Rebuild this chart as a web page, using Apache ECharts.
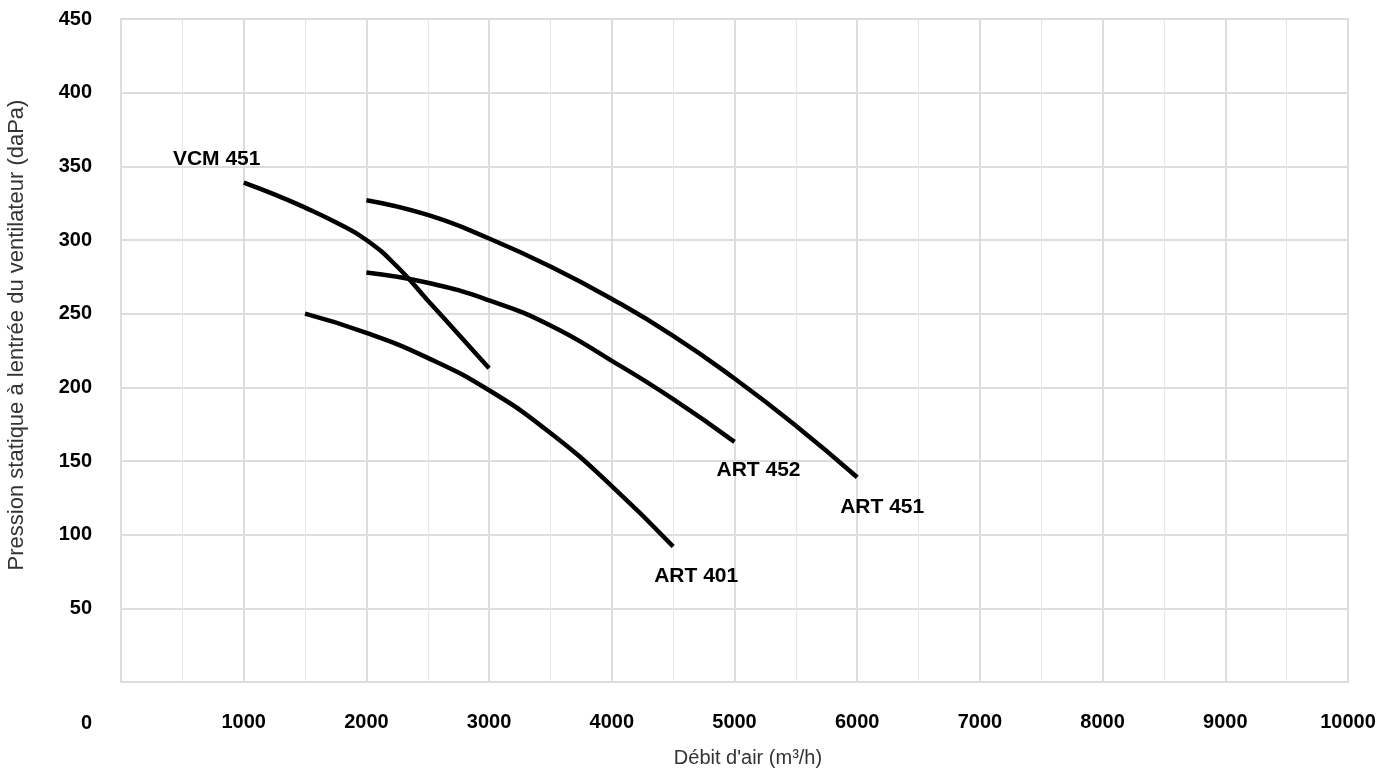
<!DOCTYPE html>
<html>
<head>
<meta charset="utf-8">
<script src="https://cdn.jsdelivr.net/npm/echarts@6/dist/echarts.min.js"></script>
<style>
html,body{margin:0;padding:0;background:#fff;}
#chart{width:1394px;height:769px;}
</style>
</head>
<body>
<div id="chart"></div>
<script>
// Data
var xTicks = [0, 1000, 2000, 3000, 4000, 5000, 6000, 7000, 8000, 9000, 10000];
var yTicks = [0, 50, 100, 150, 200, 250, 300, 350, 400, 450];

var vcm451Flow = [1000, 1250, 1500, 1750, 2000, 2250, 2500, 2750, 3000];
var vcm451Pres = [339, 331, 322, 312, 300, 282, 259, 236, 213];

var art452Flow = [2000, 2500, 3000, 3500, 4000, 4500, 5000];
var art452Pres = [278, 271, 259, 242, 218, 192, 163];

var art451Flow = [2000, 2500, 3000, 3500, 4000, 4500, 5000, 5500, 6000];
var art451Pres = [327, 317, 301, 282, 260, 235, 206, 174, 139];

var art401Flow = [1500, 2000, 2500, 3000, 3500, 4000, 4500];
var art401Pres = [250, 237, 220, 198, 169, 133, 92];

var seriesNames = ['VCM 451', 'ART 452', 'ART 451', 'ART 401'];
var xTitle = "Débit d'air (m³/h)";
var yTitle = "Pression statique à lentrée du ventilateur (daPa)";

function pairs(xs, ys) {
  return xs.map(function (x, i) { return [x, ys[i]]; });
}

function makeSeries(name, xs, ys) {
  return {
    name: name,
    type: 'line',
    data: pairs(xs, ys),
    smooth: 0.5,
    symbol: 'none',
    lineStyle: { color: '#000', width: 4.5 },
    silent: true,
    z: 3
  };
}

var tickFont = {
  fontFamily: '"Liberation Sans", Arial, sans-serif',
  fontWeight: 'bold',
  fontSize: 20,
  color: '#000'
};

var titleGraphics = [
  {
    type: 'text',
    z: 100,
    x: 92, y: 723,
    style: {
      text: '0',
      font: 'bold 20px "Liberation Sans", Arial, sans-serif',
      fill: '#000', align: 'right', verticalAlign: 'middle'
    }
  },
  {
    type: 'text',
    z: 100,
    x: 748, y: 758,
    style: {
      text: xTitle,
      font: '20px "Liberation Sans", Arial, sans-serif',
      fill: '#333', align: 'center', verticalAlign: 'middle'
    }
  },
  {
    type: 'text',
    z: 100,
    rotation: Math.PI / 2,
    x: 17, y: 335,
    style: {
      text: yTitle,
      font: '22px "Liberation Sans", Arial, sans-serif',
      fill: '#333', align: 'center', verticalAlign: 'middle'
    }
  }
];

var chart = echarts.init(document.getElementById('chart'));
chart.setOption({
  animation: false,
  backgroundColor: '#fff',
  grid: {
    left: 121, right: 46, top: 19, bottom: 87,
    show: true, borderColor: '#dddddd', borderWidth: 2
  },
  xAxis: {
    type: 'value',
    min: xTicks[0],
    max: xTicks[xTicks.length - 1],
    interval: 1000,
    axisLine: { show: false },
    axisTick: { show: false },
    minorTick: { show: false, splitNumber: 2 },
    splitLine: { show: true, lineStyle: { color: '#dddddd', width: 2 } },
    minorSplitLine: { show: true, lineStyle: { color: '#e6e6e6', width: 1 } },
    axisLabel: Object.assign({
      margin: 30,
      formatter: function (v) { return v === 0 ? '' : String(v); }
    }, tickFont)
  },
  yAxis: {
    type: 'value',
    min: yTicks[0],
    max: yTicks[yTicks.length - 1],
    interval: 50,
    axisLine: { show: false },
    axisTick: { show: false },
    splitLine: { show: true, lineStyle: { color: '#dddddd', width: 2 } },
    axisLabel: Object.assign({
      margin: 29,
      formatter: function (v) { return v === 0 ? '' : String(v); }
    }, tickFont)
  },
  graphic: titleGraphics,
  series: [
    makeSeries(seriesNames[0], vcm451Flow, vcm451Pres),
    makeSeries(seriesNames[1], art452Flow, art452Pres),
    makeSeries(seriesNames[2], art451Flow, art451Pres),
    makeSeries(seriesNames[3], art401Flow, art401Pres)
  ]
});

// Curve name labels, anchored to curve start/end points via the chart's own scales
var anchors = [
  { name: seriesNames[0], pt: [vcm451Flow[0], vcm451Pres[0]], off: [-27, -23] },
  { name: seriesNames[1], pt: [art452Flow[art452Flow.length - 1], art452Pres[art452Pres.length - 1]], off: [24, 28] },
  { name: seriesNames[2], pt: [art451Flow[art451Flow.length - 1], art451Pres[art451Pres.length - 1]], off: [25, 30] },
  { name: seriesNames[3], pt: [art401Flow[art401Flow.length - 1], art401Pres[art401Pres.length - 1]], off: [23, 30] }
];
var labelGraphics = anchors.map(function (a) {
  var p = chart.convertToPixel({ gridIndex: 0 }, a.pt);
  return {
    type: 'text',
    z: 100,
    x: p[0] + a.off[0],
    y: p[1] + a.off[1],
    style: {
      text: a.name,
      font: 'bold 21px "Liberation Sans", Arial, sans-serif',
      fill: '#000', align: 'center', verticalAlign: 'middle'
    }
  };
});
chart.setOption({ graphic: titleGraphics.concat(labelGraphics) });
</script>
</body>
</html>
